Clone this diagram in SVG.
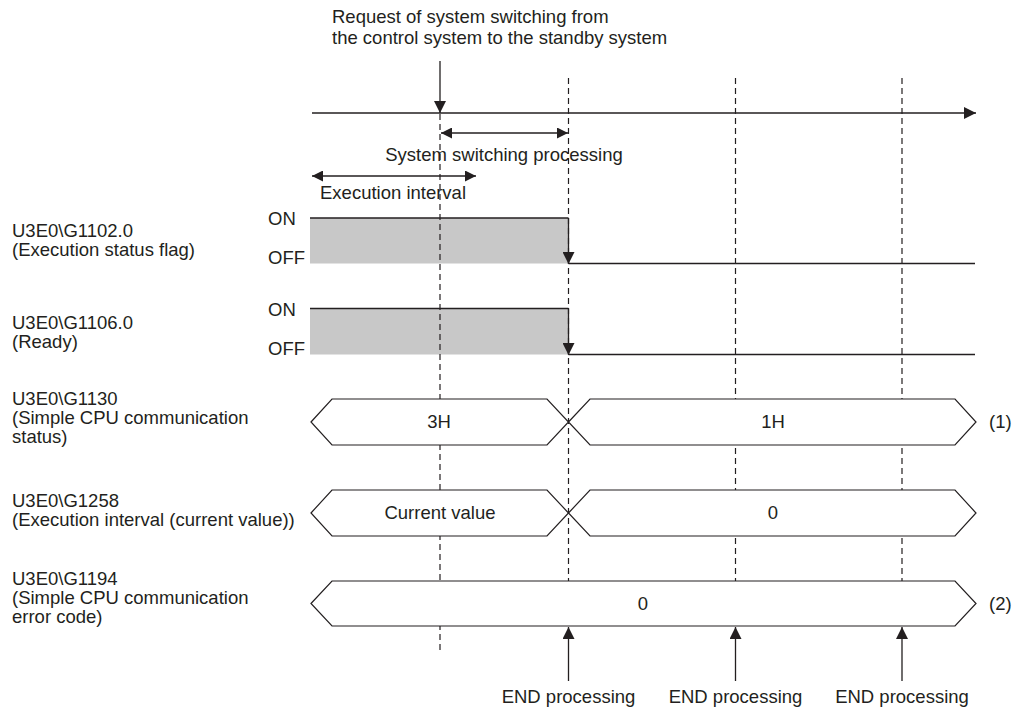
<svg xmlns="http://www.w3.org/2000/svg" width="1014" height="711" viewBox="0 0 1014 711">
<style>
text{font-family:"Liberation Sans",Arial,sans-serif;font-size:18.5px;fill:#231f20}
.mid{text-anchor:middle}
.ln{stroke:#231f20;stroke-width:1.3;fill:none}
.dash{stroke:#231f20;stroke-width:1.2;stroke-dasharray:6 4;fill:none}
.bus{stroke:#231f20;stroke-width:1.2;fill:#fff}
.on{fill:#c8c8c8;stroke:none}
</style>
<defs>
<marker id="ah" viewBox="0 0 12 12" refX="12" refY="6" markerWidth="12" markerHeight="12" markerUnits="userSpaceOnUse" orient="auto-start-reverse">
<path d="M0,0 L12,6 L0,12 z" fill="#231f20"/>
</marker>
<marker id="ahs" viewBox="0 0 11 11" refX="11" refY="5.5" markerWidth="11" markerHeight="11" markerUnits="userSpaceOnUse" orient="auto-start-reverse">
<path d="M0,0 L11,5.5 L0,11 z" fill="#231f20"/>
</marker>
</defs>
<rect width="1014" height="711" fill="#fff"/>

<g id="labels">
<text x="332" y="23">Request of system switching from</text>
<text x="332" y="44">the control system to the standby system</text>
<text class="mid" x="504" y="161">System switching processing</text>
<text x="320" y="199">Execution interval</text>
</g>

<g id="sig-exec-status">
<rect class="on" x="310" y="218" width="258.5" height="45.5"/>
<text x="12" y="237">U3E0\G1102.0</text>
<text x="12" y="256">(Execution status flag)</text>
<text x="268" y="225">ON</text>
<text x="268" y="264">OFF</text>
</g>
<g id="sig-ready">
<rect class="on" x="310" y="308.5" width="258.5" height="46"/>
<text x="12" y="329">U3E0\G1106.0</text>
<text x="12" y="348">(Ready)</text>
<text x="268" y="316">ON</text>
<text x="268" y="355">OFF</text>
</g>

<g id="grid">
<line class="dash" x1="440" y1="114" x2="440" y2="652"/>
<line class="dash" x1="568.5" y1="78" x2="568.5" y2="626"/>
<line class="dash" x1="735.5" y1="78" x2="735.5" y2="626"/>
<line class="dash" x1="902" y1="78" x2="902" y2="626"/>
</g>

<g id="sig-exec-status-wave">
<polyline class="ln" points="310,218 568.5,218"/>
<line class="ln" x1="568.5" y1="263.5" x2="975" y2="263.5"/>
</g>
<g id="sig-ready-wave">
<polyline class="ln" points="310,308.5 568.5,308.5"/>
<line class="ln" x1="568.5" y1="354.5" x2="975" y2="354.5"/>
</g>

<g id="sig-comm-status">
<text x="12" y="405">U3E0\G1130</text>
<text x="12" y="424">(Simple CPU communication</text>
<text x="12" y="443">status)</text>
<polygon class="bus" points="311,422 332,399 547,399 568.5,422 547,445 332,445"/>
<polygon class="bus" points="568.5,422 590,399 955,399 976,422 955,445 590,445"/>
<text class="mid" x="439" y="428">3H</text>
<text class="mid" x="773" y="428">1H</text>
<text x="989" y="428">(1)</text>
</g>

<g id="sig-exec-interval">
<text x="12" y="507">U3E0\G1258</text>
<text x="12" y="526">(Execution interval (current value))</text>
<polygon class="bus" points="311,513 332,490 547,490 568.5,513 547,536 332,536"/>
<polygon class="bus" points="568.5,513 590,490 955,490 976,513 955,536 590,536"/>
<text class="mid" x="440" y="519">Current value</text>
<text class="mid" x="773" y="519">0</text>
</g>

<g id="sig-error-code">
<text x="12" y="585">U3E0\G1194</text>
<text x="12" y="604">(Simple CPU communication</text>
<text x="12" y="623">error code)</text>
<polygon class="bus" points="311,603.5 332,581 955,581 976,603.5 955,626 332,626"/>
<text class="mid" x="643" y="610">0</text>
<text x="989" y="610">(2)</text>
</g>

<g id="end-labels">
<text class="mid" x="568.5" y="703">END processing</text>
<text class="mid" x="735.5" y="703">END processing</text>
<text class="mid" x="902" y="703">END processing</text>
</g>

<g id="connectors">
<line class="ln" x1="312" y1="113" x2="976" y2="113" marker-end="url(#ah)"/>
<line class="ln" x1="440" y1="61" x2="440" y2="113" marker-end="url(#ah)"/>
<line class="ln" x1="441" y1="133" x2="568" y2="133" marker-start="url(#ahs)" marker-end="url(#ahs)"/>
<line class="ln" x1="312" y1="176" x2="476" y2="176" marker-start="url(#ahs)" marker-end="url(#ahs)"/>
<line class="ln" x1="568.5" y1="218" x2="568.5" y2="264" marker-end="url(#ah)"/>
<line class="ln" x1="568.5" y1="308.5" x2="568.5" y2="355" marker-end="url(#ah)"/>
<line class="ln" x1="568.5" y1="681" x2="568.5" y2="627" marker-end="url(#ah)"/>
<line class="ln" x1="735.5" y1="681" x2="735.5" y2="627" marker-end="url(#ah)"/>
<line class="ln" x1="902" y1="681" x2="902" y2="627" marker-end="url(#ah)"/>
</g>
</svg>
